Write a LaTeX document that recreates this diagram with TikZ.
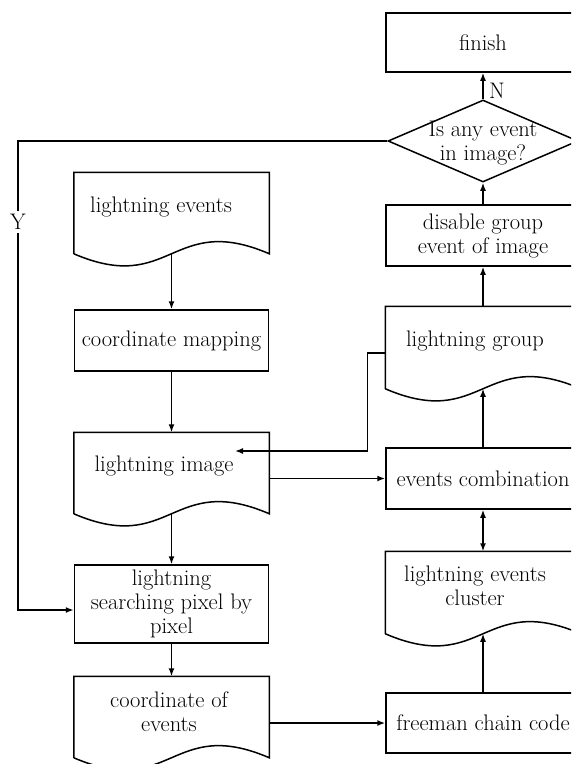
\documentclass[tikz,border=0pt]{standalone}
\usetikzlibrary{arrows.meta,calc,shapes.geometric}
\newcommand\docoutline[1]{\draw (#1.south west) -- (#1.north west) -- (#1.north east) -- (#1.south east) .. controls ($(#1.south)+(0,-42)$) and ($(#1.south)+(0,42)$) .. (#1.south west);}
\begin{document}
\begin{tikzpicture}[x=1pt,y=-1pt,line width=1.5pt,
  every node/.style={font=\fontsize{22.5}{24}\selectfont},
  procbox/.style={draw,rectangle,minimum width=194pt,inner sep=0pt,align=center},
  docbox/.style={rectangle,minimum width=194pt,inner sep=0pt},
  txt/.style={inner sep=0pt,align=center},
  arr/.style={-{Latex[length=8pt,width=6pt]}},
  darr/.style={{Latex[length=8pt,width=6pt]}-{Latex[length=8pt,width=6pt]}}]
\useasboundingbox (0,0) rectangle (571,764);
\clip (0,0) rectangle (571,764);

% left column
\node[docbox,minimum height=80pt] (le) at (171.5,213) {};
\docoutline{le}
\node[txt] (le-t) at (161,207) {lightning events};

\node[procbox,minimum height=61pt] (cm) at (171.5,340.5) {coordinate mapping};

\node[docbox,minimum height=80pt] (li) at (171.5,473) {};
\docoutline{li}
\node[txt] (li-t) at (164,466) {lightning image};

\node[procbox,minimum height=78pt] (sp) at (171.5,604) {lightning\\searching pixel by\\pixel};

\node[docbox,minimum height=80pt] (ce) at (171.5,717) {};
\docoutline{ce}
\node[txt] (ce-t) at (169,712) {coordinate of\\events};

% right column
\node[procbox,minimum height=59pt] (fin) at (483,42.5) {finish};
\node[draw,diamond,aspect=2.3,inner sep=0pt,minimum width=190pt,minimum height=82pt] (dia) at (483,141) {};
\node[txt] (dia-t) at (483,143) {Is any event\\in image?};
\node[procbox,minimum height=61pt] (dg) at (483,235.5) {disable group\\event of image};

\node[docbox,minimum height=81pt] (lg) at (483,347.5) {};
\docoutline{lg}
\node[txt] (lg-t) at (475,341) {lightning group};

\node[procbox,minimum height=61pt] (ec) at (483,478.5) {events combination};

\node[docbox,minimum height=81pt] (cl) at (483,592.5) {};
\docoutline{cl}
\node[txt] (cl-t) at (475,586) {lightning events\\cluster};

\node[procbox,minimum height=60pt] (fc) at (483,723) {freeman chain code};

% connectors
\draw[arr] (le.south) -- (cm.north);
\draw[arr] (cm.south) -- (li.north);
\draw[arr] (li.south) -- (sp.north);
\draw[arr] (sp.south) -- (ce.north);
\draw[arr] (ce.east |- fc.west) -- (fc.west);
\draw[arr] (li.east |- ec.west) -- (ec.west);
\draw[arr] (ec.north) -- (lg.south);
\draw[arr] (lg.north) -- (dg.south);
\draw[arr] (dg.north) -- (dia.south);
\draw[arr] (dia.north) -- (fin.south);
\node[txt] (nlab) at (497,91) {N};
\draw[arr] (fc.north) -- (cl.south);
\draw[darr] (ec.south) -- (cl.north);

\coordinate (tipA) at (235,451);
\draw[arr] ($(lg.west)+(0,5.5)$) -- ++(-18,0) |- (tipA);

\coordinate (yc) at (18,141);
\draw[arr] (dia.west) -- (yc) |- ($(sp.west)+(0,6)$);
\node[txt,fill=white,inner sep=3pt] (ylab) at (18,222) {Y};
\end{tikzpicture}
\end{document}
